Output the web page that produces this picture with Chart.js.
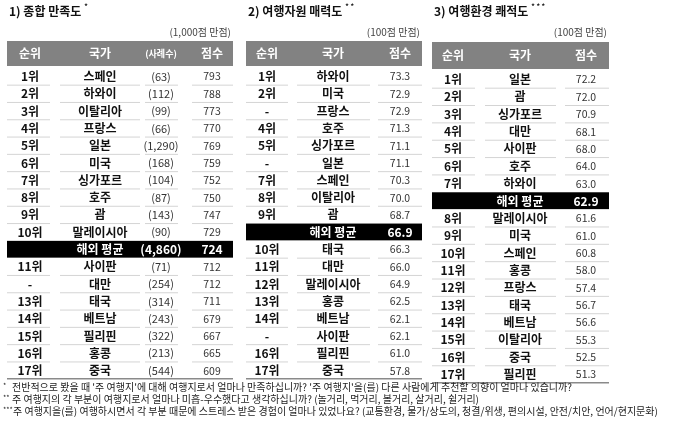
<!DOCTYPE html>
<html><head><meta charset="utf-8">
<script src="https://cdn.jsdelivr.net/npm/chart.js@4"></script>
<style>html,body{margin:0;padding:0;background:#fff}#w{width:680px;height:423px}</style>
</head><body><div id="w"><canvas id="c"></canvas></div>
<script>
// Table 1: 종합 만족도
const t1Ranks = ['1위','2위','3위','4위','5위','6위','7위','8위','9위','10위','','11위','-','13위','14위','15위','16위','17위'];
const t1Countries = ['스페인','하와이','이탈리아','프랑스','일본','미국','싱가포르','호주','괌','말레이시아','해외 평균','사이판','대만','태국','베트남','필리핀','홍콩','중국'];
const t1Cases = ['(63)','(112)','(99)','(66)','(1,290)','(168)','(104)','(87)','(143)','(90)','(4,860)','(71)','(254)','(314)','(243)','(322)','(213)','(544)'];
const t1Scores = [793,788,773,770,769,759,752,750,747,729,724,712,712,711,679,667,665,609];
// Table 2: 여행자원 매력도
const t2Ranks = ['1위','2위','-','4위','5위','-','7위','8위','9위','','10위','11위','12위','13위','14위','-','16위','17위'];
const t2Countries = ['하와이','미국','프랑스','호주','싱가포르','일본','스페인','이탈리아','괌','해외 평균','태국','대만','말레이시아','홍콩','베트남','사이판','필리핀','중국'];
const t2Scores = [73.3,72.9,72.9,71.3,71.1,71.1,70.3,70.0,68.7,66.9,66.3,66.0,64.9,62.5,62.1,62.1,61.0,57.8];
// Table 3: 여행환경 쾌적도
const t3Ranks = ['1위','2위','3위','4위','5위','6위','7위','','8위','9위','10위','11위','12위','13위','14위','15위','16위','17위'];
const t3Countries = ['일본','괌','싱가포르','대만','사이판','호주','하와이','해외 평균','말레이시아','미국','스페인','홍콩','프랑스','태국','베트남','이탈리아','중국','필리핀'];
const t3Scores = [72.2,72.0,70.9,68.1,68.0,64.0,63.0,62.9,61.6,61.0,60.8,58.0,57.4,56.7,56.6,55.3,52.5,51.3];

const FONT = '"Noto Sans CJK KR","Noto Sans",sans-serif';
const tables = [
  {title:'1) 종합 만족도', star:'*', unit:'(1,000점 만점)', x0:7, x1:233, hy0:41, hy1:66, r0:76, rh:17.3,
   cols:[{h:'순위',x:30,d:t1Ranks,bold:true},{h:'국가',x:100,d:t1Countries,bold:true},{h:'(사례수)',x:161,d:t1Cases,small:true},{h:'점수',x:212,d:t1Scores.map(String)}],
   seg:[[7,50],[60,140],[145,178],[192,233]]},
  {title:'2) 여행자원 매력도', star:'* *', unit:'(100점 만점)', x0:246, x1:422, hy0:41, hy1:66, r0:76, rh:17.3,
   cols:[{h:'순위',x:267,d:t2Ranks,bold:true},{h:'국가',x:333,d:t2Countries,bold:true},{h:'점수',x:400,d:t2Scores.map(v=>v.toFixed(1))}],
   seg:[[246,288],[297,370],[378,422]]},
  {title:'3) 여행환경 쾌적도', star:'* * *', unit:'(100점 만점)', x0:432, x1:609, hy0:42, hy1:69, r0:79, rh:17.35,
   cols:[{h:'순위',x:453,d:t3Ranks,bold:true},{h:'국가',x:520,d:t3Countries,bold:true},{h:'점수',x:586,d:t3Scores.map(v=>v.toFixed(1))}],
   seg:[[432,475],[485,556],[565,609]]}
];
const notes = [
 ['*',"전반적으로 봤을 때 '주 여행지'에 대해 여행지로서 얼마나 만족하십니까? '주 여행지'을(를) 다른 사람에게 추천할 의향이 얼마나 있습니까?"],
 ['**','주 여행지의 각 부분이 여행지로서 얼마나 미흡-우수했다고 생각하십니까? (놀거리, 먹거리, 볼거리, 살거리, 쉴거리)'],
 ['***','주 여행지을(를) 여행하시면서 각 부분 때문에 스트레스 받은 경험이 얼마나 있었나요? (교통환경, 물가/상도의, 청결/위생, 편의시설, 안전/치안, 언어/현지문화)']
];

const tablePlugin = {id:'tables', afterDraw(chart){
  const ctx = chart.ctx, X = chart.scales.x, Y = chart.scales.y;
  const px = v => X.getPixelForValue(v), py = v => Y.getPixelForValue(v);
  ctx.save(); ctx.textBaseline='middle';
  tables.forEach(t=>{
    ctx.fillStyle='#111'; ctx.textAlign='left'; ctx.font='bold 12px '+FONT;
    ctx.fillText(t.title, px(t.x0+2), py(11));
    const tw = ctx.measureText(t.title).width;
    ctx.font='bold 7px '+FONT; ctx.fillText(t.star, px(t.x0+2)+tw+3, py(6));
    ctx.font='10px '+FONT; ctx.fillStyle='#444'; ctx.textAlign='right';
    ctx.fillText(t.unit, px(t.x1-2), py(32));
    ctx.fillStyle='#828282'; ctx.fillRect(px(t.x0), py(t.hy0), px(t.x1)-px(t.x0), py(t.hy1)-py(t.hy0));
    ctx.textAlign='center'; ctx.fillStyle='#fff';
    t.cols.forEach(c=>{ ctx.font=(c.small?'bold 9px ':'bold 12px ')+FONT; ctx.fillText(c.h, px(c.x), py((t.hy0+t.hy1)/2)); });
    const n = t.cols[0].d.length;
    for(let i=0;i<n;i++){
      const cy = t.r0 + i*t.rh, avg = t.cols[1].d[i]==='해외 평균';
      if(avg){ ctx.fillStyle='#000'; ctx.fillRect(px(t.x0), py(cy-t.rh/2+0.5), px(t.x1)-px(t.x0), py(cy+t.rh/2)-py(cy-t.rh/2+0.5)); }
      t.cols.forEach((c,j)=>{
        const last = j===t.cols.length-1;
        if(avg){ ctx.fillStyle='#fff'; ctx.font='bold 12px '+FONT; }
        else if(c.bold){ ctx.fillStyle='#111'; ctx.font='bold 12px '+FONT; }
        else { ctx.fillStyle='#333'; ctx.font=(last?'10.5px ':'11px ')+FONT; }
        ctx.fillText(c.d[i], px(c.x), py(cy+0.5));
      });
      if(!avg && i<n-1 && t.cols[1].d[i+1]!=='해외 평균'){
        ctx.strokeStyle='#d4d4d4'; ctx.lineWidth=1;
        t.seg.forEach(s=>{ ctx.beginPath(); ctx.moveTo(px(s[0]), py(cy+t.rh/2)+0.5); ctx.lineTo(px(s[1]), py(cy+t.rh/2)+0.5); ctx.stroke(); });
      }
    }
    const by = t.r0 + (n-1)*t.rh + t.rh/2;
    ctx.strokeStyle='#8a8a8a'; ctx.lineWidth=1.5;
    ctx.beginPath(); ctx.moveTo(px(t.x0), py(by)); ctx.lineTo(px(t.x1), py(by)); ctx.stroke();
  });
  ctx.textAlign='left'; ctx.fillStyle='#222';
  notes.forEach((nt,i)=>{
    const y = 387 + i*12;
    ctx.font='7px '+FONT; ctx.fillText(nt[0], px(3), py(y-2));
    ctx.font='10px '+FONT; ctx.fillText(nt[1], px(i===2?13:12), py(y));
  });
  ctx.restore();
}};

new Chart(document.getElementById('c'), {
  type:'scatter',
  data:{datasets:[{data:[]}]},
  options:{responsive:true, maintainAspectRatio:false, animation:false,
    layout:{padding:0},
    plugins:{legend:{display:false}, tooltip:{enabled:false}},
    scales:{x:{type:'linear',min:0,max:680,display:false},
            y:{type:'linear',min:0,max:423,reverse:true,display:false}}},
  plugins:[tablePlugin]
});
</script></body></html>
